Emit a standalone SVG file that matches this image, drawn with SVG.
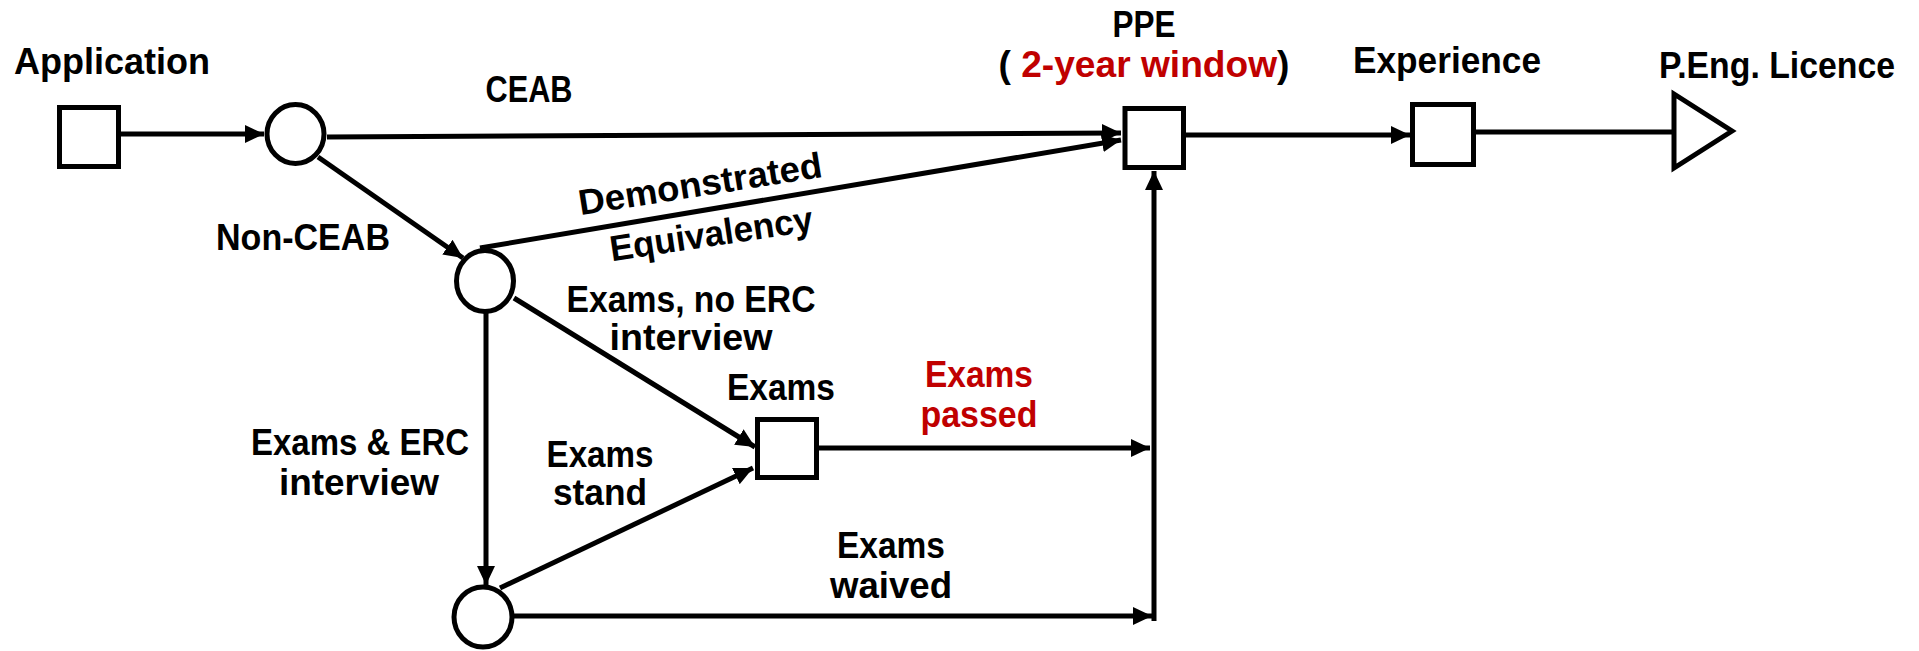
<svg xmlns="http://www.w3.org/2000/svg" width="1919" height="651" viewBox="0 0 1919 651">
  <style>
    .lbl { font-family: "Liberation Sans", Arial, sans-serif; font-weight: bold; font-size: 36px; fill: #000; text-anchor: middle; }
    .red { fill: #C00000; }
    .node { fill: #fff; stroke: #000; stroke-width: 5; }
    .edge { fill: none; stroke: #000; stroke-width: 5; }
    .arrow { marker-end: url(#head); }
  </style>
  <defs>
    <marker id="head" markerUnits="userSpaceOnUse" markerWidth="20" markerHeight="20" refX="19" refY="9" orient="auto">
      <path d="M0,0 L19,9 L0,18 Z" fill="#000"/>
    </marker>
  </defs>

  <rect width="1919" height="651" fill="#fff"/>

  <!-- connectors -->
  <g id="connectors">
    <line class="edge arrow" x1="121" y1="134" x2="264" y2="134"/>
    <line class="edge arrow" x1="327" y1="137" x2="1121" y2="133"/>
    <line class="edge arrow" x1="318" y1="157" x2="463" y2="258"/>
    <line class="edge arrow" x1="480" y1="248" x2="1121" y2="140"/>
    <line class="edge arrow" x1="514" y1="298" x2="755" y2="447"/>
    <line class="edge arrow" x1="486" y1="313" x2="486" y2="585"/>
    <line class="edge arrow" x1="500" y1="588" x2="753" y2="468"/>
    <line class="edge arrow" x1="819" y1="448" x2="1150" y2="448"/>
    <line class="edge arrow" x1="514" y1="616" x2="1152" y2="616"/>
    <line class="edge arrow" x1="1154" y1="621" x2="1154" y2="171"/>
    <line class="edge arrow" x1="1186" y1="135" x2="1410" y2="135"/>
    <line class="edge" x1="1476" y1="132" x2="1676" y2="132"/>
  </g>

  <!-- edge labels -->
  <g id="edge-labels">
    <text class="lbl" x="529" y="102" textLength="87" lengthAdjust="spacingAndGlyphs">CEAB</text>
    <text class="lbl" x="303" y="250" textLength="174" lengthAdjust="spacingAndGlyphs">Non-CEAB</text>
    <text class="lbl" x="702" y="196" transform="rotate(-9 702 196)" textLength="246" lengthAdjust="spacingAndGlyphs">Demonstrated</text>
    <text class="lbl" x="713" y="246" transform="rotate(-8.5 713 246)" textLength="205" lengthAdjust="spacingAndGlyphs">Equivalency</text>
    <text class="lbl" x="691" y="312" textLength="249" lengthAdjust="spacingAndGlyphs">Exams, no ERC</text>
    <text class="lbl" x="691" y="350" textLength="163" lengthAdjust="spacingAndGlyphs">interview</text>
    <text class="lbl" x="360" y="455" textLength="218" lengthAdjust="spacingAndGlyphs">Exams &amp; ERC</text>
    <text class="lbl" x="359" y="495" textLength="160" lengthAdjust="spacingAndGlyphs">interview</text>
    <text class="lbl" x="600" y="467" textLength="107" lengthAdjust="spacingAndGlyphs">Exams</text>
    <text class="lbl" x="600" y="505" textLength="94" lengthAdjust="spacingAndGlyphs">stand</text>
    <text class="lbl red" x="979" y="387" textLength="108" lengthAdjust="spacingAndGlyphs">Exams</text>
    <text class="lbl red" x="979" y="427" textLength="117" lengthAdjust="spacingAndGlyphs">passed</text>
    <text class="lbl" x="891" y="558" textLength="108" lengthAdjust="spacingAndGlyphs">Exams</text>
    <text class="lbl" x="891" y="598" textLength="122" lengthAdjust="spacingAndGlyphs">waived</text>
  </g>

  <!-- nodes -->
  <g id="application">
    <rect class="node" x="59.5" y="107.5" width="59" height="59"/>
    <text class="lbl" x="112" y="74" textLength="196" lengthAdjust="spacingAndGlyphs">Application</text>
  </g>
  <g id="branch-ceab">
    <ellipse class="node" cx="295.5" cy="134" rx="28.5" ry="29.5"/>
  </g>
  <g id="branch-non-ceab">
    <ellipse class="node" cx="485" cy="281" rx="28.5" ry="30.5"/>
  </g>
  <g id="branch-interview">
    <ellipse class="node" cx="483" cy="617" rx="29" ry="30"/>
  </g>
  <g id="exams">
    <rect class="node" x="757.5" y="419.5" width="59" height="58"/>
    <text class="lbl" x="781" y="400" textLength="108" lengthAdjust="spacingAndGlyphs">Exams</text>
  </g>
  <g id="ppe">
    <rect class="node" x="1125" y="108.5" width="58.5" height="59"/>
    <text class="lbl" x="1144" y="37" textLength="63" lengthAdjust="spacingAndGlyphs">PPE</text>
    <text class="lbl" x="1144" y="77" textLength="291" lengthAdjust="spacingAndGlyphs">( <tspan class="red">2-year window</tspan>)</text>
  </g>
  <g id="experience">
    <rect class="node" x="1412.5" y="104.5" width="61" height="60"/>
    <text class="lbl" x="1447" y="73" textLength="188" lengthAdjust="spacingAndGlyphs">Experience</text>
  </g>
  <g id="licence">
    <polygon class="node" points="1674,94 1674,168 1732,131"/>
    <text class="lbl" x="1777" y="78" textLength="236" lengthAdjust="spacingAndGlyphs">P.Eng. Licence</text>
  </g>
</svg>
